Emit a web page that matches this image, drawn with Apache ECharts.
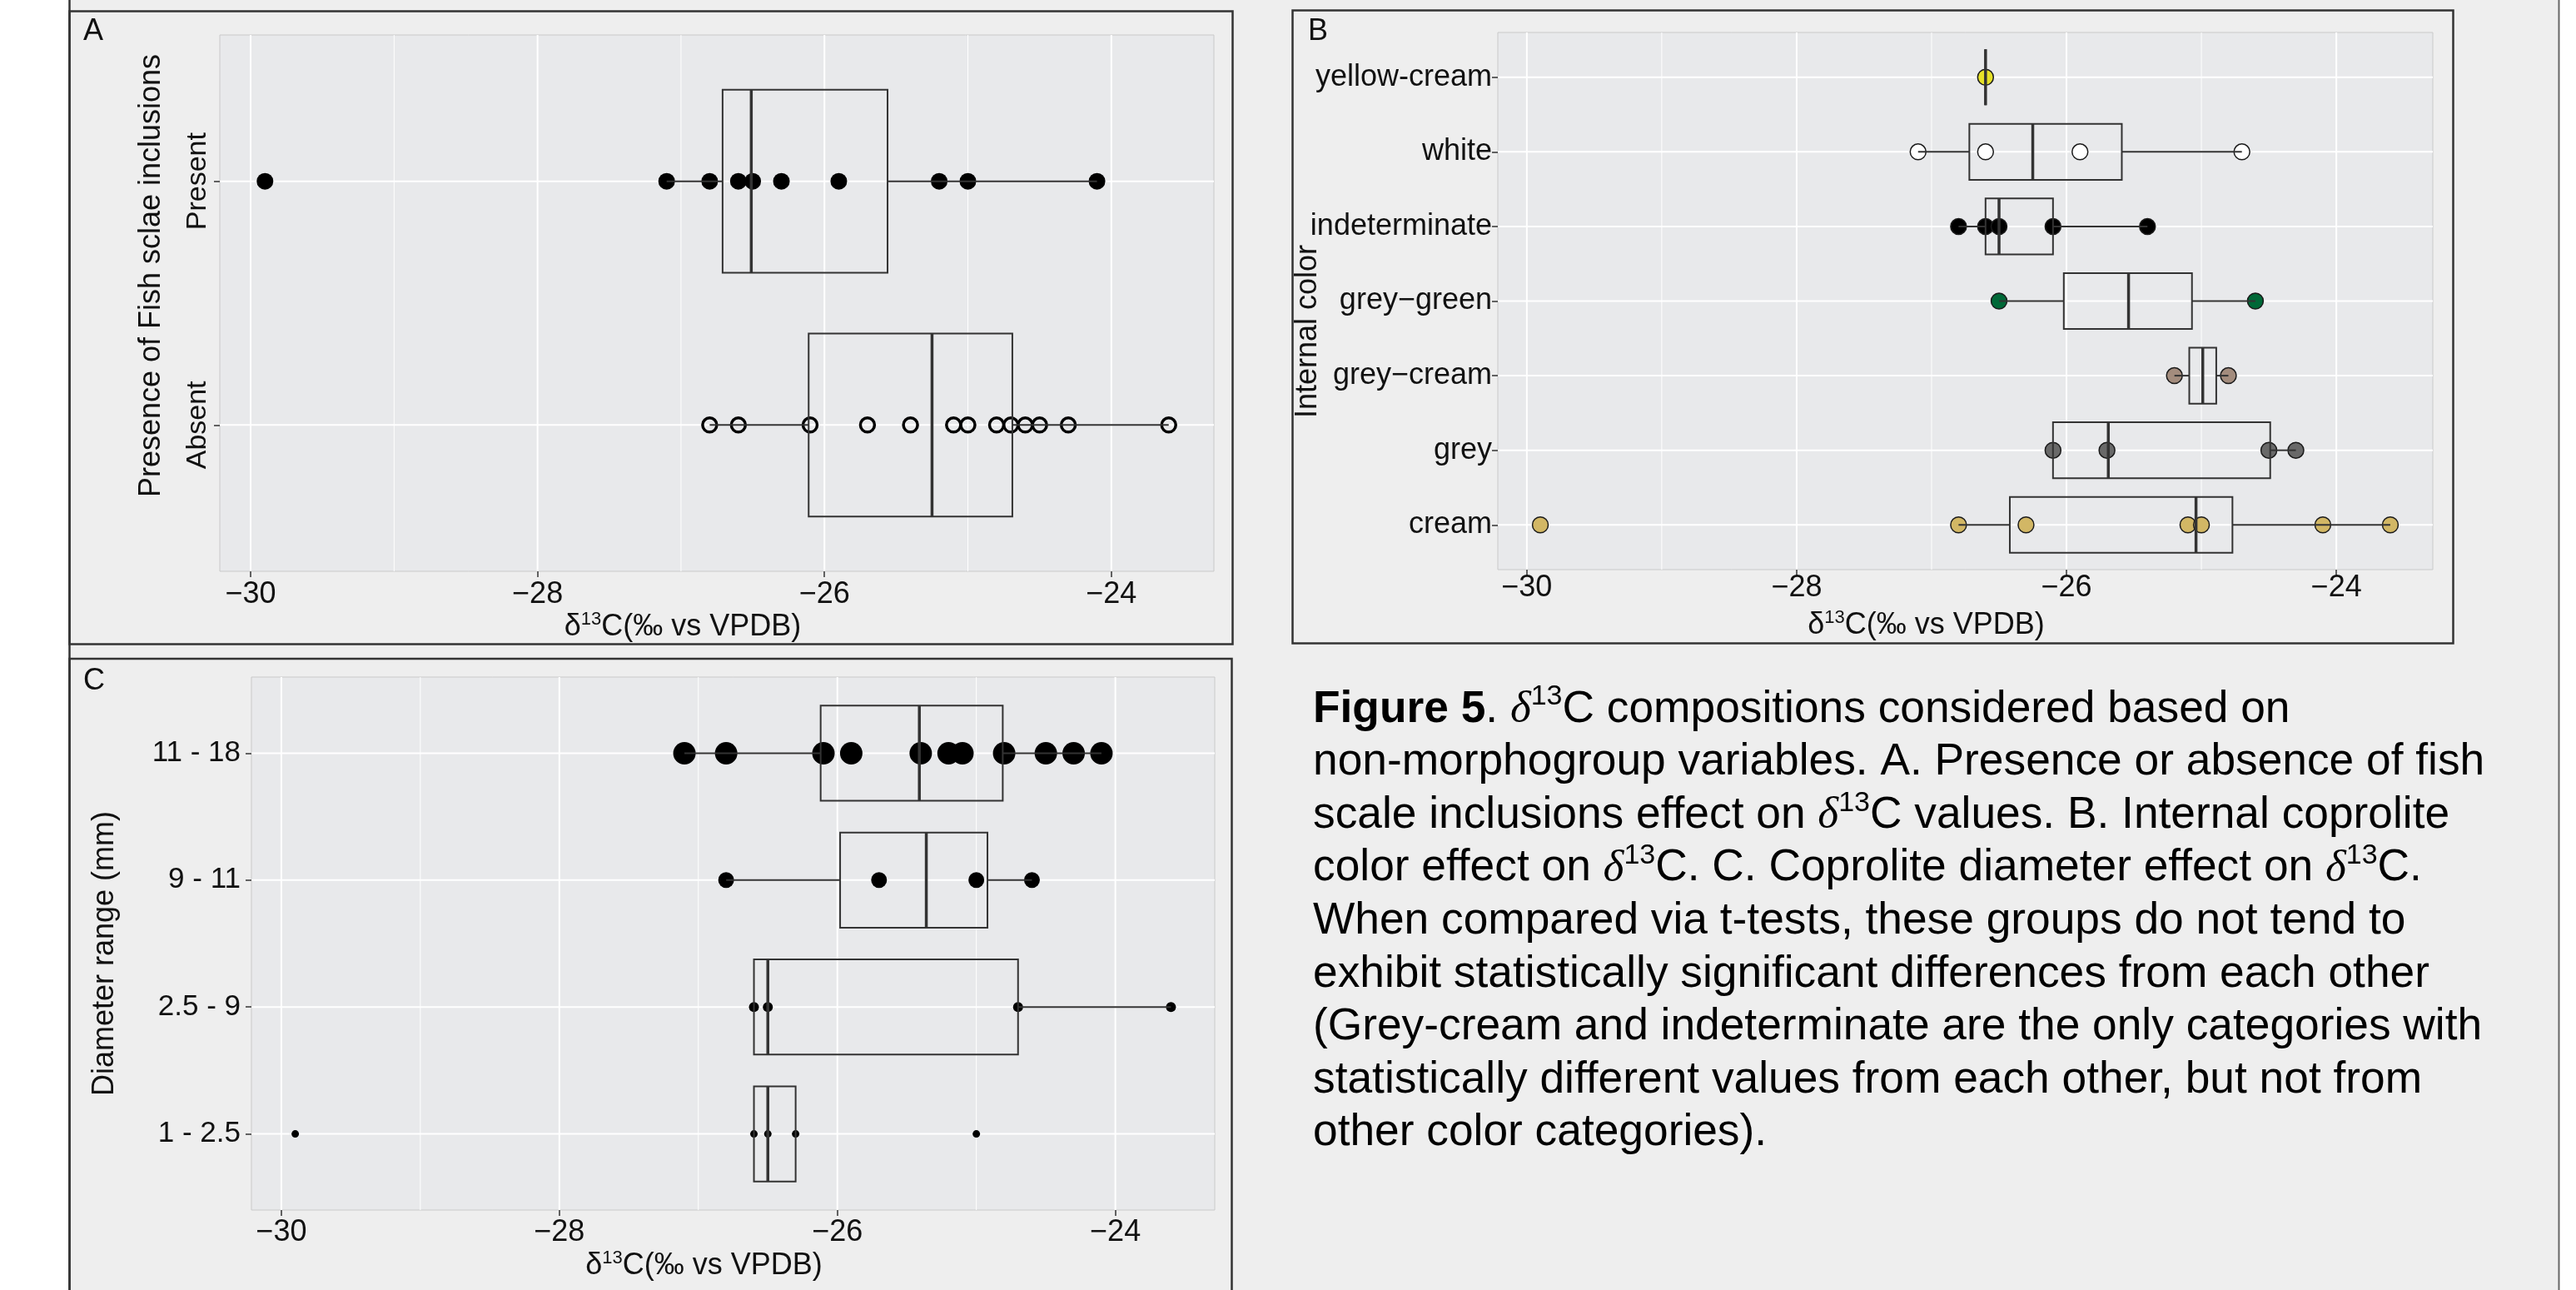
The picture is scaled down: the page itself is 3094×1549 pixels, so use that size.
<!DOCTYPE html>
<html><head><meta charset="utf-8">
<script src="https://cdn.jsdelivr.net/npm/echarts@6/dist/echarts.min.js"></script>
<style>html,body{margin:0;padding:0;background:#eeeeee;} #c{width:3094px;height:1549px;}</style>
</head><body><div id="c"></div>
<script>
// ---------------- data ----------------
const xTicks = [-30, -28, -26, -24];
const xMinor = [-29, -27, -25];

// A: presence of fish scale inclusions (bottom -> top)
const fishCats = ['Absent', 'Present'];
const fishAbsent = [-26.8, -26.6, -26.1, -25.7, -25.4, -25.1, -25.0, -24.8, -24.7, -24.6, -24.5, -24.3, -23.6];
const fishPresent = [-29.9, -27.1, -26.8, -26.6, -26.5, -26.3, -25.9, -25.2, -25.0, -24.1];
// [lower whisker, Q1, median, Q3, upper whisker]
const fishBoxes = [
  [-26.8, -26.11, -25.25, -24.69, -23.6],
  [-27.1, -26.71, -26.51, -25.56, -24.1]
];

// B: internal colour (bottom -> top)
const colorCats = ['cream', 'grey', 'grey\u2212cream', 'grey\u2212green', 'indeterminate', 'white', 'yellow-cream'];
const colorFills = ['#d2b765', '#696969', '#a38c7d', '#006837', '#000000', '#ffffff', '#e6e128'];
const colCream = [-29.9, -26.8, -26.3, -25.1, -25.0, -24.1, -23.6];
const colGrey = [-26.1, -25.7, -24.5, -24.3];
const colGreyCream = [-25.2, -24.8];
const colGreyGreen = [-26.5, -24.6];
const colIndet = [-26.8, -26.6, -26.5, -26.1, -25.4];
const colWhite = [-27.1, -26.6, -25.9, -24.7];
const colYellowCream = [-26.6];
const colorPoints = [colCream, colGrey, colGreyCream, colGreyGreen, colIndet, colWhite, colYellowCream];
const colorBoxes = [
  [-26.8, -26.42, -25.04, -24.77, -23.6],
  [-26.1, -26.1, -25.69, -24.49, -24.3],
  [-25.2, -25.09, -24.99, -24.89, -24.8],
  [-26.5, -26.02, -25.54, -25.07, -24.6],
  [-26.8, -26.6, -26.5, -26.1, -25.4],
  [-27.1, -26.72, -26.25, -25.59, -24.7],
  [-26.6, -26.6, -26.6, -26.6, -26.6]
];

// C: diameter range (bottom -> top)
const diamCats = ['1 - 2.5', '2.5 - 9', '9 - 11', '11 - 18'];
const diam1 = [-29.9, -26.6, -26.5, -26.3, -25.0];
const diam2 = [-26.6, -26.5, -24.7, -23.6];
const diam3 = [-26.8, -25.7, -25.0, -24.6];
const diam4 = [-27.1, -26.8, -26.1, -25.9, -25.4, -25.2, -25.1, -24.8, -24.5, -24.3, -24.1];
const diamPoints = [diam1, diam2, diam3, diam4];
const diamBoxes = [
  [-26.6, -26.6, -26.5, -26.3, -26.3],
  [-26.6, -26.6, -26.5, -24.7, -23.6],
  [-26.8, -25.98, -25.36, -24.92, -24.6],
  [-27.1, -26.12, -25.41, -24.81, -24.1]
];
const diamSizes = [9, 12, 19, 27];

const captionLines = [
  '{b|Figure 5}. {d|\u03b4}{s|13}C compositions considered based on',
  'non-morphogroup variables. A. Presence or absence of fish',
  'scale inclusions effect on {d|\u03b4}{s|13}C values. B. Internal coprolite',
  'color effect on {d|\u03b4}{s|13}C. C. Coprolite diameter effect on {d|\u03b4}{s|13}C.',
  'When compared via t-tests, these groups do not tend to',
  'exhibit statistically significant differences from each other',
  '(Grey-cream and indeterminate are the only categories with',
  'statistically different values from each other, but not from',
  'other color categories).'
];

// ---------------- chart ----------------
const FONT = "'Liberation Sans', Arial, Helvetica, sans-serif";
const SERIF = "'Liberation Serif', 'DejaVu Serif', serif";
const allVals = [].concat(fishAbsent, fishPresent, ...colorPoints, ...diamPoints);
const dMin = Math.min(...allVals), dMax = Math.max(...allVals);
const pad = (dMax - dMin) * 0.05;
const xMin = dMin - pad, xMax = dMax + pad;

const fmtTick = v => (v < 0 ? '\u2212' : '') + Math.abs(Math.round(v));
const idx = n => Array.from({length: n}, (_, i) => i + 1);

function xAxisDef(gridIndex, labelMargin, nameGap, shiftLeft) {
  return {
    type: 'value', gridIndex, min: xMin, max: xMax,
    axisLine: {show: false}, splitLine: {show: false},
    axisTick: {show: true, customValues: xTicks, length: 7, lineStyle: {color: '#333', width: 1.5}},
    axisLabel: {customValues: xTicks, formatter: fmtTick, fontSize: 36, color: '#111', fontFamily: FONT, margin: labelMargin},
    name: '{d|\u03b4}{s|13}{n|C(\u2030 vs VPDB)}', nameLocation: 'middle', nameGap,
    nameTextStyle: {
      fontFamily: FONT, fontSize: 36, color: '#111', lineHeight: 40,
      padding: [0, 2 * shiftLeft, 0, 0],
      rich: {
        d: {fontFamily: FONT, fontSize: 36, color: '#111', lineHeight: 40},
        s: {fontFamily: FONT, fontSize: 22, color: '#111', lineHeight: 24, verticalAlign: 'top'},
        n: {fontFamily: FONT, fontSize: 36, color: '#111', lineHeight: 40}
      }
    }
  };
}
function yAxisDef(gridIndex, cats, fontSize, margin, rotate) {
  return {
    type: 'value', gridIndex, min: 0.4, max: cats.length + 0.6,
    axisLine: {show: false}, splitLine: {show: false},
    axisTick: {show: true, customValues: idx(cats.length), length: 7, lineStyle: {color: '#333', width: 1.5}},
    axisLabel: {customValues: idx(cats.length), formatter: v => cats[Math.round(v) - 1],
      fontSize, color: '#111', fontFamily: FONT, margin, rotate: rotate || 0}
  };
}

function gridRender(params, api) {
  const cs = params.coordSys;
  const v = api.value(0), k = api.value(1);
  if (k === 2) {
    const py = api.coord([xMin, v])[1];
    return {type: 'line', shape: {x1: cs.x, y1: py, x2: cs.x + cs.width, y2: py}, style: {stroke: '#ffffff', lineWidth: 2}};
  }
  const px = api.coord([v, 1])[0];
  return {type: 'line', shape: {x1: px, y1: cs.y, x2: px, y2: cs.y + cs.height}, style: {stroke: '#ffffff', lineWidth: k === 0 ? 2 : 1}};
}
function gridData(nCats) {
  return xTicks.map(v => [v, 0]).concat(xMinor.map(v => [v, 1]), idx(nCats).map(v => [v, 2]));
}
function boxRender(params, api) {
  const y = api.value(0);
  const lo = api.value(1), q1 = api.value(2), md = api.value(3), q3 = api.value(4), hi = api.value(5);
  const half = 0.375;
  const cy = api.coord([q1, y])[1];
  const top = api.coord([q1, y + half])[1], bot = api.coord([q1, y - half])[1];
  const xLo = api.coord([lo, y])[0], x1 = api.coord([q1, y])[0], xm = api.coord([md, y])[0],
        x3 = api.coord([q3, y])[0], xHi = api.coord([hi, y])[0];
  const st = {stroke: '#333333', lineWidth: 2, fill: null};
  return {type: 'group', children: [
    {type: 'line', shape: {x1: xLo, y1: cy, x2: x1, y2: cy}, style: st},
    {type: 'line', shape: {x1: x3, y1: cy, x2: xHi, y2: cy}, style: st},
    {type: 'rect', shape: {x: x1, y: top, width: x3 - x1, height: bot - top}, style: {stroke: '#333333', lineWidth: 2, fill: 'rgba(0,0,0,0)'}},
    {type: 'line', shape: {x1: xm, y1: top, x2: xm, y2: bot}, style: {stroke: '#333333', lineWidth: 3.5}}
  ]};
}
function boxData(boxes) { return boxes.map((b, i) => [i + 1].concat(b)); }

const series = [];
// grid lines
[fishCats, colorCats, diamCats].forEach((cats, g) => {
  series.push({type: 'custom', xAxisIndex: g, yAxisIndex: g, renderItem: gridRender, data: gridData(cats.length), z: 1, silent: true, clip: false});
});
// A points
series.push({type: 'scatter', xAxisIndex: 0, yAxisIndex: 0, z: 2, symbolSize: 20,
  itemStyle: {color: '#000', opacity: 1}, data: fishPresent.map(v => [v, 2])});
series.push({type: 'scatter', xAxisIndex: 0, yAxisIndex: 0, z: 2, symbolSize: 17,
  itemStyle: {color: 'rgba(0,0,0,0)', borderColor: '#000', borderWidth: 3.5, opacity: 1}, data: fishAbsent.map(v => [v, 1])});
series.push({type: 'custom', xAxisIndex: 0, yAxisIndex: 0, z: 3, renderItem: boxRender, data: boxData(fishBoxes),
  encode: {x: [1, 2, 3, 4, 5], y: 0}, silent: true});
// B points
colorPoints.forEach((pts, i) => {
  series.push({type: 'scatter', xAxisIndex: 1, yAxisIndex: 1, z: 2, symbolSize: 19,
    itemStyle: {color: colorFills[i], borderColor: '#1a1a1a', borderWidth: 1.5, opacity: 1}, data: pts.map(v => [v, i + 1])});
});
series.push({type: 'custom', xAxisIndex: 1, yAxisIndex: 1, z: 3, renderItem: boxRender, data: boxData(colorBoxes),
  encode: {x: [1, 2, 3, 4, 5], y: 0}, silent: true});
// C points
diamPoints.forEach((pts, i) => {
  series.push({type: 'scatter', xAxisIndex: 2, yAxisIndex: 2, z: 2, symbolSize: diamSizes[i],
    itemStyle: {color: '#000', opacity: 1}, data: pts.map(v => [v, i + 1])});
});
series.push({type: 'custom', xAxisIndex: 2, yAxisIndex: 2, z: 3, renderItem: boxRender, data: boxData(diamBoxes),
  encode: {x: [1, 2, 3, 4, 5], y: 0}, silent: true});

const gridStyle = {show: true, backgroundColor: '#e8e9eb', borderColor: '#c9c9c9', borderWidth: 1};
const panelStroke = {stroke: '#333333', lineWidth: 2.5, fill: null};

const graphic = [
  {type: 'rect', shape: {x: 0, y: 0, width: 83, height: 1549}, style: {fill: '#ffffff'}, silent: true},
  {type: 'rect', shape: {x: 3074, y: 0, width: 30, height: 1549}, style: {fill: '#ffffff'}, silent: true},
  {type: 'line', shape: {x1: 83.5, y1: 0, x2: 83.5, y2: 1549}, style: {stroke: '#333', lineWidth: 2.5}, silent: true},
  {type: 'line', shape: {x1: 3073.5, y1: 0, x2: 3073.5, y2: 1549}, style: {stroke: '#666', lineWidth: 2}, silent: true},
  {type: 'rect', shape: {x: 83.5, y: 13.5, width: 1397, height: 760}, style: panelStroke, silent: true},
  {type: 'rect', shape: {x: 1552.5, y: 12.5, width: 1394, height: 760}, style: panelStroke, silent: true},
  {type: 'rect', shape: {x: 83.5, y: 791, width: 1396, height: 800}, style: panelStroke, silent: true},
  {type: 'text', x: 100, y: 38, style: {text: 'A', fontFamily: FONT, fontSize: 36, fill: '#111', align: 'left', verticalAlign: 'middle'}},
  {type: 'text', x: 1571, y: 38, style: {text: 'B', fontFamily: FONT, fontSize: 36, fill: '#111', align: 'left', verticalAlign: 'middle'}},
  {type: 'text', x: 100, y: 818, style: {text: 'C', fontFamily: FONT, fontSize: 36, fill: '#111', align: 'left', verticalAlign: 'middle'}},
  {type: 'text', x: 182, y: 331, rotation: Math.PI / 2, style: {text: 'Presence of Fish sclae inclusions', fontFamily: FONT, fontSize: 36, fill: '#111', align: 'center', verticalAlign: 'middle'}},
  {type: 'text', x: 1571, y: 398, rotation: Math.PI / 2, style: {text: 'Internal color', fontFamily: FONT, fontSize: 36, fill: '#111', align: 'center', verticalAlign: 'middle'}},
  {type: 'text', x: 126, y: 1145, rotation: Math.PI / 2, style: {text: 'Diameter range (mm)', fontFamily: FONT, fontSize: 36, fill: '#111', align: 'center', verticalAlign: 'middle'}}
];
captionLines.forEach((t, i) => {
  graphic.push({type: 'text', x: 1577, y: 852 + 63.6 * i, style: {
    text: t, fontFamily: FONT, fontSize: 53.3, fill: '#000', align: 'left', verticalAlign: 'middle', lineHeight: 64,
    rich: {
      b: {fontFamily: FONT, fontWeight: 'bold', fontSize: 53.3, lineHeight: 64, fill: '#000'},
      d: {fontFamily: SERIF, fontStyle: 'italic', fontSize: 53.3, lineHeight: 64, fill: '#000'},
      s: {fontFamily: FONT, fontSize: 34, lineHeight: 40, verticalAlign: 'top', fill: '#000'}
    }}});
});

const chart = echarts.init(document.getElementById('c'), null, {renderer: 'canvas'});
chart.setOption({
  backgroundColor: '#eeeeee',
  animation: false,
  grid: [
    Object.assign({left: 264, top: 42, width: 1194, height: 644}, gridStyle),
    Object.assign({left: 1799, top: 39, width: 1123, height: 645}, gridStyle),
    Object.assign({left: 302, top: 813, width: 1157, height: 640}, gridStyle)
  ],
  xAxis: [xAxisDef(0, 10, 45, 41), xAxisDef(1, 4, 47, 47), xAxisDef(2, 9, 47, 35)],
  yAxis: [yAxisDef(0, fishCats, 34, 9, 90), yAxisDef(1, colorCats, 36, 7), yAxisDef(2, diamCats, 35, 13)],
  series,
  graphic
});
</script></body></html>
